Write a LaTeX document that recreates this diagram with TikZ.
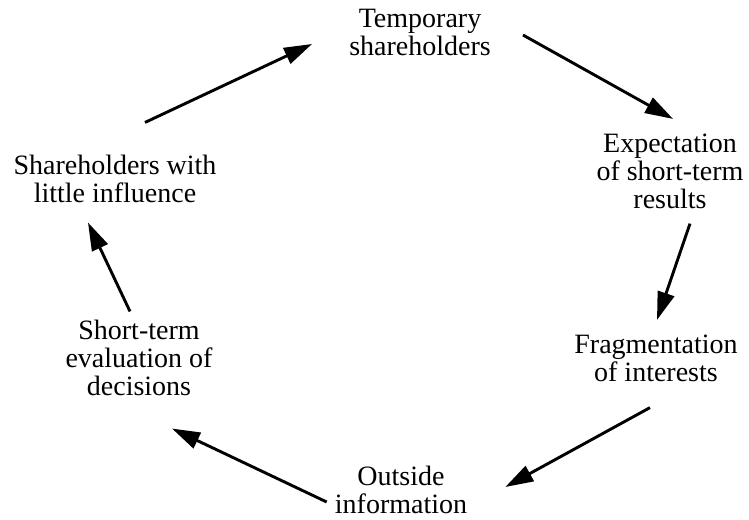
\documentclass[tikz,border=0pt]{standalone}
\usepackage{fontspec}
\setmainfont{Liberation Serif}
\usetikzlibrary{arrows.meta, calc}

\begin{document}
\begin{tikzpicture}[
  x=1pt, y=-1pt,
  stage/.style = {inner sep=0pt, align=center,
                  font=\fontsize{28}{28}\selectfont},
  arr/.style   = {-{Triangle[length=28pt,width=17pt]}, line width=2.9pt}
]
\useasboundingbox (0,0) rectangle (749,519);

\node[stage] (temp)    at (420,32)    {Temporary\\shareholders};
\node[stage] (expect)  at (670,171)   {Expectation\\of short-term\\results};
\node[stage] (frag)    at (656,358)   {Fragmentation\\of interests};
\node[stage] (outside) at (401,489.5) {Outside\\information};
\node[stage] (steval)  at (139,357.5) {Short-term\\evaluation of\\decisions};
\node[stage] (weakinf) at (115,178.5) {Shareholders with\\little influence};

% the cycle
\draw[arr] ($(temp.east)+(32,3)$)      -- ($(expect.north)+(3,-14.5)$);
\draw[arr] ($(expect.south)+(20,15)$)  -- ($(frag.north)+(1,-14.5)$);
\draw[arr] ($(frag.south)+(-6,26)$)    -- ($(outside.east)+(38,-2.5)$);
\draw[arr] ($(outside.west)+(-8,12.5)$) -- ($(steval.south)+(33,33)$);
\draw[arr] ($(steval.north)+(-9,-8)$)  -- ($(weakinf.south)+(-27,20)$);
\draw[arr] ($(weakinf.north)+(30,-32)$) -- ($(temp.west)+(-37,12)$);

\end{tikzpicture}
\end{document}
